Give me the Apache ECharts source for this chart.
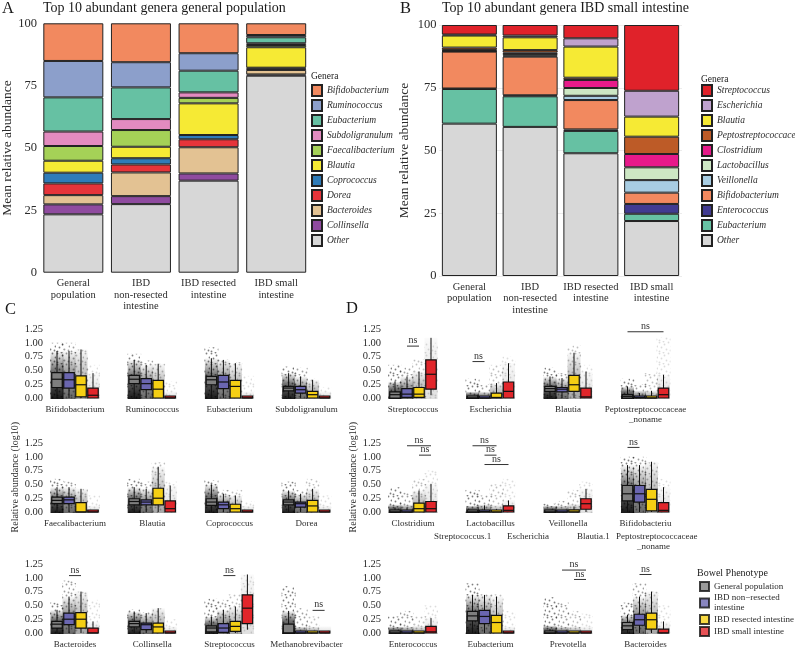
<!DOCTYPE html>
<html>
<head>
<meta charset="utf-8">
<script src="https://cdn.jsdelivr.net/npm/echarts@6/dist/echarts.min.js"></script>
<style>
  html, body { margin: 0; background: #fff; }
  #chart { width: 795px; height: 660px; }
</style>
</head>
<body>
<div id="chart"></div>
<script>
// ---------- data: panels A and B (stacked mean relative abundance) ----------
const phenotypes = ['General\npopulation', 'IBD\nnon-resected\nintestine', 'IBD resected\nintestine', 'IBD small\nintestine'];

// bottom -> top of each stack
const generaA = ['Other', 'Collinsella', 'Bacteroides', 'Dorea', 'Coprococcus', 'Blautia',
  'Faecalibacterium', 'Subdoligranulum', 'Eubacterium', 'Ruminococcus', 'Bifidobacterium'];
const valuesA = [
  [23.4, 27.5, 36.9, 79.0],
  [4.0, 3.2, 2.9, 0.5],
  [3.7, 9.5, 10.5, 1.8],
  [4.7, 3.2, 3.2, 0.6],
  [4.3, 2.5, 1.7, 0.3],
  [4.8, 4.6, 12.7, 8.2],
  [5.9, 6.7, 2.2, 0.9],
  [5.8, 4.4, 2.2, 0.7],
  [13.7, 12.7, 8.7, 2.4],
  [14.6, 10.1, 7.0, 0.9],
  [15.1, 15.6, 12.0, 4.7]
];

const generaB = ['Other', 'Eubacterium', 'Enterococcus', 'Bifidobacterium', 'Veillonella', 'Lactobacillus',
  'Clostridium', 'Peptostreptococcaceae', 'Blautia', 'Escherichia', 'Streptococcus'];
const valuesB = [
  [60.7, 59.4, 48.9, 21.9],
  [13.8, 12.2, 8.9, 2.9],
  [0.2, 0.4, 0.6, 3.9],
  [14.7, 15.4, 11.7, 4.5],
  [0.1, 0.4, 1.7, 5.0],
  [0.2, 0.6, 3.1, 5.1],
  [0.3, 0.6, 3.2, 5.3],
  [1.0, 1.0, 0.9, 6.9],
  [4.8, 5.1, 12.4, 8.0],
  [0.4, 0.7, 3.3, 10.3],
  [3.8, 4.2, 5.3, 26.2]
];

// ---------- data: panels C and D (box plots, [min, q1, median, q3, max]) ----------
const groupNames = ['General population', 'IBD non−resected intestine', 'IBD resected intestine', 'IBD small intestine'];
const tickValues = [0, 0.25, 0.5, 0.75, 1, 1.25];

const facetsC = ['Bifidobacterium', 'Ruminococcus', 'Eubacterium', 'Subdoligranulum',
  'Faecalibacterium', 'Blautia', 'Coprococcus', 'Dorea',
  'Bacteroides', 'Collinsella', 'Streptococcus', 'Methanobrevibacter'];
const boxesC = [
  [[0, 0.19, 0.34, 0.46, 0.85], [0, 0.18, 0.33, 0.46, 0.85], [0, 0.02, 0.24, 0.40, 0.88], [0, 0, 0.05, 0.18, 0.45]],
  [[0, 0.26, 0.34, 0.41, 0.69], [0, 0.15, 0.26, 0.35, 0.60], [0, 0, 0.16, 0.32, 0.62], [0, 0, 0, 0.01, 0.01]],
  [[0, 0.24, 0.33, 0.39, 0.72], [0, 0.17, 0.29, 0.41, 0.69], [0, 0, 0.21, 0.32, 0.63], [0, 0, 0, 0.01, 0.02]],
  [[0, 0.13, 0.18, 0.21, 0.45], [0, 0.09, 0.15, 0.21, 0.39], [0, 0, 0.06, 0.12, 0.33], [0, 0, 0, 0.01, 0.01]],
  [[0, 0.15, 0.21, 0.27, 0.45], [0, 0.15, 0.22, 0.27, 0.45], [0, 0, 0, 0.17, 0.42], [0, 0, 0, 0.01, 0.01]],
  [[0, 0.13, 0.19, 0.24, 0.45], [0, 0.13, 0.18, 0.22, 0.42], [0, 0.13, 0.25, 0.43, 0.82], [0, 0, 0.06, 0.20, 0.48]],
  [[0, 0.12, 0.18, 0.24, 0.50], [0, 0.06, 0.13, 0.18, 0.33], [0, 0, 0.06, 0.14, 0.30], [0, 0, 0, 0.01, 0.01]],
  [[0, 0.13, 0.18, 0.22, 0.39], [0, 0.09, 0.15, 0.18, 0.33], [0, 0, 0.11, 0.21, 0.42], [0, 0, 0, 0.01, 0.02]],
  [[0, 0.09, 0.16, 0.21, 0.42], [0, 0.15, 0.25, 0.36, 0.66], [0, 0.09, 0.25, 0.37, 0.75], [0, 0, 0, 0.09, 0.21]],
  [[0, 0.11, 0.17, 0.21, 0.39], [0, 0.06, 0.15, 0.18, 0.36], [0, 0, 0.11, 0.18, 0.45], [0, 0, 0, 0.01, 0.01]],
  [[0, 0.02, 0.09, 0.13, 0.30], [0, 0.01, 0.09, 0.17, 0.42], [0, 0.03, 0.12, 0.21, 0.48], [0.06, 0.17, 0.45, 0.69, 1.06]],
  [[0, 0, 0, 0.16, 0.40], [0, 0, 0, 0.01, 0.01], [0, 0, 0, 0.01, 0.01], [0, 0, 0, 0.01, 0.01]]
];
// highest jittered points per group
const cloudsC = [
  [1.0, 1.0, 0.88, 0.6], [0.8, 0.68, 0.62, 0.3], [0.92, 0.7, 0.65, 0.4], [0.57, 0.55, 0.35, 0.2],
  [0.6, 0.55, 0.42, 0.3], [0.6, 0.55, 0.9, 0.55], [0.58, 0.4, 0.4, 0.2], [0.55, 0.4, 0.6, 0.3],
  [0.55, 0.95, 0.75, 0.6], [0.43, 0.38, 0.45, 0.25], [0.62, 0.6, 0.7, 1.05], [0.85, 0.45, 0.3, 0.05]
];
// [facet, group from, group to, height]
const sigC = [[8, 1, 2, 1.04], [10, 1, 2, 1.04], [11, 2, 3, 0.41]];

const facetsD = ['Streptococcus', 'Escherichia', 'Blautia', 'Peptostreptococcaceae\n_noname',
  'Clostridium', 'Lactobacillus', 'Veillonella', 'Bifidobacteriu',
  'Enterococcus', 'Eubacterium', 'Prevotella', 'Bacteroides'];
const boxesD = [
  [[0, 0, 0.06, 0.11, 0.30], [0, 0.01, 0.07, 0.17, 0.39], [0, 0.01, 0.07, 0.19, 0.48], [0.05, 0.16, 0.43, 0.69, 1.09]],
  [[0, 0, 0, 0.01, 0.03], [0, 0, 0, 0.01, 0.02], [0, 0, 0.01, 0.09, 0.27], [0, 0, 0.12, 0.29, 0.63]],
  [[0, 0.12, 0.17, 0.21, 0.39], [0, 0.11, 0.16, 0.19, 0.36], [0, 0.12, 0.24, 0.41, 0.82], [0, 0, 0.02, 0.18, 0.48]],
  [[0, 0, 0.03, 0.06, 0.21], [0, 0, 0.01, 0.03, 0.09], [0, 0, 0, 0.03, 0.13], [0, 0, 0.06, 0.18, 0.42]],
  [[0, 0, 0, 0.03, 0.08], [0, 0, 0, 0.03, 0.08], [0, 0, 0.06, 0.16, 0.39], [0, 0, 0.06, 0.19, 0.51]],
  [[0, 0, 0, 0.01, 0.03], [0, 0, 0.01, 0.03, 0.12], [0, 0, 0, 0.02, 0.05], [0, 0, 0.03, 0.11, 0.21]],
  [[0, 0, 0, 0.01, 0.02], [0, 0, 0, 0.01, 0.02], [0, 0, 0, 0.04, 0.10], [0, 0.05, 0.15, 0.24, 0.42]],
  [[0, 0.20, 0.33, 0.48, 0.85], [0, 0.18, 0.33, 0.48, 0.85], [0, 0.02, 0.23, 0.41, 0.91], [0, 0, 0.03, 0.17, 0.45]],
  [[0, 0, 0, 0.01, 0.02], [0, 0, 0, 0.01, 0.02], [0, 0, 0, 0.02, 0.03], [0, 0, 0.02, 0.12, 0.27]],
  [[0, 0.22, 0.31, 0.39, 0.69], [0, 0.17, 0.30, 0.41, 0.69], [0, 0, 0.19, 0.32, 0.66], [0, 0, 0, 0.01, 0.02]],
  [[0, 0, 0, 0.03, 0.07], [0, 0, 0, 0.01, 0.01], [0, 0, 0, 0.01, 0.01], [0, 0, 0, 0.01, 0.01]],
  [[0, 0.06, 0.13, 0.19, 0.33], [0, 0.14, 0.24, 0.34, 0.66], [0, 0.07, 0.24, 0.36, 0.75], [0, 0, 0, 0.07, 0.21]]
];
const cloudsD = [
  [0.6, 0.55, 0.7, 1.0], [0.35, 0.25, 0.6, 0.75], [0.55, 0.45, 0.95, 0.6], [0.35, 0.25, 0.45, 1.1],
  [0.45, 0.35, 0.6, 0.75], [0.4, 0.3, 0.5, 0.6], [0.15, 0.2, 0.4, 0.55], [1.0, 1.0, 0.9, 0.6],
  [0.3, 0.4, 0.3, 0.5], [0.9, 0.7, 0.7, 0.4], [0.65, 0.55, 0.4, 0.35], [0.55, 0.9, 0.75, 0.5]
];
const sigD = [[0, 1, 2, 0.94], [1, 0, 1, 0.66], [3, 0, 3, 1.20],
  [4, 1, 3, 1.20], [4, 2, 3, 1.03],
  [5, 0, 2, 1.20], [5, 1, 2, 1.03], [5, 1, 3, 0.86],
  [7, 0, 1, 1.17], [10, 1, 3, 1.14], [10, 2, 3, 0.97], [11, 1, 2, 1.06]];

// ---------- styles ----------
const FONT = 'Liberation Serif';
const TXT = '#2b2b2b';
const generaColors = {
  Other: '#d7d7d7', Collinsella: '#8f4b9f', Bacteroides: '#e3c293', Dorea: '#e6343a',
  Coprococcus: '#2f7cb9', Blautia: '#f6ea34', Faecalibacterium: '#a5d157', Subdoligranulum: '#e38bc0',
  Eubacterium: '#66c1a3', Ruminococcus: '#8c9fcb', Bifidobacterium: '#f2895f',
  Enterococcus: '#413b91', Veillonella: '#a8cde3', Lactobacillus: '#cde7c4', Clostridium: '#e71a8a',
  Peptostreptococcaceae: '#bd5b27', Escherichia: '#bfa2ce', Streptococcus: '#e0222a'
};
const groupColors = ['#7f7f7f', '#6a66b0', '#f5cf14', '#e1262b'];
const cloudAlpha = [0.9, 0.6, 0.35, 0.12];
const PX = 55.2;                 // pixels per unit on the facet y axes
const rowZero = [398, 512, 633]; // pixel row of y = 0 in each facet row

// small dotted texture used to suggest the jittered points
const dotTile = document.createElement('canvas');
dotTile.width = 14; dotTile.height = 11;
(function () {
  const c = dotTile.getContext('2d');
  c.fillStyle = 'rgba(0,0,0,0.5)';
  [[1, 1], [6, 3], [10, 1], [13, 5], [3, 6], [8, 8], [12, 9], [1, 10], [5, 0]].forEach(p => {
    c.beginPath(); c.arc(p[0] + 0.5, p[1] + 0.5, 0.9, 0, Math.PI * 2); c.fill();
  });
})();

const grids = [], xAxes = [], yAxes = [], series = [];

// stacked bar panels
function barPanel(genera, values, stack, grid, barWidth, split) {
  const gi = grids.length;
  grids.push({ left: grid.left, top: grid.top, width: grid.width, height: grid.height,
    containLabel: false, outerBoundsMode: 'none' });
  xAxes.push({
    gridIndex: gi, type: 'category', data: phenotypes,
    axisLine: { show: false }, axisTick: { show: false },
    axisLabel: { interval: 0, fontSize: 10.5, lineHeight: 11.5, margin: 5, color: TXT, fontFamily: FONT }
  });
  yAxes.push({
    gridIndex: gi, type: 'value', min: 0, max: 100, interval: 25,
    name: 'Mean relative abundance', nameLocation: 'middle', nameGap: grid.nameGap,
    nameTextStyle: { fontSize: 13.5, color: TXT, fontFamily: FONT },
    axisLine: { show: false }, axisTick: { show: false },
    axisLabel: { fontSize: 12.5, margin: 2.5, color: TXT, fontFamily: FONT },
    splitLine: { show: split, lineStyle: { color: '#ececec', width: 1 } }
  });
  genera.forEach((g, i) => {
    series.push({
      name: g, type: 'bar', stack, xAxisIndex: gi, yAxisIndex: gi, barWidth,
      itemStyle: { color: generaColors[g], borderColor: '#222', borderWidth: 1 },
      data: values[i]
    });
  });
}
barPanel(generaA, valuesA, 'A', { left: 39.5, top: 23.3, width: 270.5, height: 249.4, nameGap: 24 }, 60, false);
barPanel(generaB, valuesB, 'B', { left: 439, top: 25, width: 243, height: 251, nameGap: 27.5 }, 55, true);

// box + jitter cloud, drawn through the axis scales
function renderBox(params, api) {
  const g = api.value(0);
  const lo = api.coord([g, api.value(1)]);
  const q1 = api.coord([g, api.value(2)]);
  const md = api.coord([g, api.value(3)]);
  const q3 = api.coord([g, api.value(4)]);
  const hi = api.coord([g, api.value(5)]);
  const top = api.coord([g, api.value(6)]);
  const zero = api.coord([g, 0]);
  const x = lo[0], w = 10.5, cw = 14, a = cloudAlpha[g];
  const coreTop = Math.min(hi[1], q3[1] - 6);
  let bTop = q3[1], bBot = q1[1];
  if (bBot - bTop < 2) bTop = bBot - 2;
  return {
    type: 'group',
    children: [
      { type: 'rect', shape: { x: x - cw / 2, y: top[1], width: cw, height: zero[1] - top[1] + 1 },
        style: { fill: { image: dotTile, repeat: 'repeat' }, opacity: Math.min(1, a + 0.15) } },
      { type: 'rect', shape: { x: x - 6.5, y: coreTop, width: 13, height: zero[1] - coreTop + 1 },
        style: { fill: new echarts.graphic.LinearGradient(0, 0, 0, 1, [
          { offset: 0, color: 'rgba(0,0,0,0.02)' },
          { offset: 0.4, color: 'rgba(0,0,0,' + (a * 0.6) + ')' },
          { offset: 1, color: 'rgba(0,0,0,' + a + ')' }]) } },
      { type: 'line', shape: { x1: x, y1: hi[1], x2: x, y2: lo[1] }, style: { stroke: '#111', lineWidth: 1 } },
      { type: 'rect', shape: { x: x - w / 2, y: bTop, width: w, height: bBot - bTop },
        style: { fill: groupColors[g], stroke: '#111', lineWidth: 1.2 } },
      { type: 'line', shape: { x1: x - w / 2, y1: md[1], x2: x + w / 2, y2: md[1] }, style: { stroke: '#111', lineWidth: 1.2 } }
    ]
  };
}
function renderSig(params, api) {
  const p1 = api.coord([api.value(0), api.value(2)]);
  const p2 = api.coord([api.value(1), api.value(2)]);
  return {
    type: 'group',
    children: [
      { type: 'line', shape: { x1: p1[0], y1: p1[1], x2: p2[0], y2: p2[1] }, style: { stroke: '#333', lineWidth: 1 } },
      { type: 'text', style: { text: 'ns', x: (p1[0] + p2[0]) / 2, y: p1[1] - 0.5, align: 'center', verticalAlign: 'bottom',
        fontSize: 10, fontFamily: FONT, fill: '#333' } }
    ]
  };
}

function facetPanel(facets, boxes, clouds, sigs, x0, step, titleGap) {
  facets.forEach((name, i) => {
    const row = Math.floor(i / 4), col = i % 4;
    const gi = grids.length;
    grids.push({ left: x0 + col * step, top: rowZero[row] - 1.3 * PX, width: 48, height: 1.34 * PX,
      containLabel: false, outerBoundsMode: 'none' });
    xAxes.push({
      gridIndex: gi, type: 'category', data: ['g0', 'g1', 'g2', 'g3'],
      name, nameLocation: 'middle', nameGap: 4,
      nameTextStyle: { fontSize: 9, lineHeight: 10, color: TXT, fontFamily: FONT, verticalAlign: 'top' },
      axisLine: { show: false, onZero: false }, axisTick: { show: false }, axisLabel: { show: false }
    });
    yAxes.push({
      gridIndex: gi, type: 'value', min: -0.04, max: 1.3,
      name: (row === 1 && col === 0) ? 'Relative abundance (log10)' : '',
      nameLocation: 'middle', nameGap: titleGap,
      nameTextStyle: { fontSize: 10, color: TXT, fontFamily: FONT },
      splitLine: { show: false }, axisLine: { show: false }, axisTick: { show: false },
      axisLabel: { show: col === 0, customValues: tickValues, formatter: v => v.toFixed(2),
        fontSize: 10.5, margin: 8, color: TXT, fontFamily: FONT }
    });
    series.push({
      type: 'custom', xAxisIndex: gi, yAxisIndex: gi, renderItem: renderBox,
      encode: { x: 0, y: [1, 2, 3, 4, 5, 6] },
      data: boxes[i].map((b, g) => [g].concat(b, [clouds[i][g]]))
    });
    const s = sigs.filter(d => d[0] === i).map(d => [d[1], d[2], d[3]]);
    if (s.length) {
      series.push({ type: 'custom', xAxisIndex: gi, yAxisIndex: gi, renderItem: renderSig,
        encode: { x: [0, 1], y: 2 }, data: s, z: 5 });
    }
  });
}
const firstFacetGrid = grids.length;
facetPanel(facetsC, boxesC, cloudsC, sigC, 51, 77.2, 31);
facetPanel(facetsD, boxesD, cloudsD, sigD, 389, 77.5, 30);

// legend entries for the bowel phenotype groups
groupNames.forEach((n, g) => {
  series.push({ name: n, type: 'scatter', xAxisIndex: firstFacetGrid, yAxisIndex: firstFacetGrid, data: [],
    itemStyle: { color: groupColors[g], borderColor: '#111', borderWidth: 1 } });
});

const legendBase = {
  orient: 'vertical', icon: 'rect', padding: 0, selectedMode: false,
  itemWidth: 10, itemHeight: 11, itemGap: 2,
  textStyle: { fontStyle: 'italic', fontSize: 9.5, color: TXT, fontFamily: FONT }
};
const titleStyle = (size) => ({ fontSize: size, fontWeight: 'normal', color: '#1a1a1a', fontFamily: FONT });

const chart = echarts.init(document.getElementById('chart'), null, { renderer: 'canvas' });
chart.setOption({
  animation: false,
  backgroundColor: '#fff',
  textStyle: { fontFamily: FONT },
  title: [
    { text: 'A', left: 2, top: 0, padding: 0, textStyle: titleStyle(16.5) },
    { text: 'Top 10 abundant genera general population', left: 43, top: 1, padding: 0, textStyle: titleStyle(14) },
    { text: 'B', left: 400, top: 0, padding: 0, textStyle: titleStyle(16.5) },
    { text: 'Top 10 abundant genera IBD small intestine', left: 442, top: 1, padding: 0, textStyle: titleStyle(14) },
    { text: 'C', left: 5, top: 301, padding: 0, textStyle: titleStyle(16.5) },
    { text: 'D', left: 346, top: 300, padding: 0, textStyle: titleStyle(16.5) },
    { text: 'Genera', left: 311, top: 71, padding: 0, textStyle: titleStyle(9.5) },
    { text: 'Genera', left: 701, top: 74, padding: 0, textStyle: titleStyle(9.5) },
    { text: 'Bowel Phenotype', left: 697, top: 568, padding: 0, textStyle: titleStyle(10) }
  ],
  legend: [
    Object.assign({}, legendBase, { data: generaA.slice().reverse(), left: 311, top: 84 }),
    Object.assign({}, legendBase, { data: generaB.slice().reverse(), left: 701, top: 84 }),
    Object.assign({}, legendBase, {
      data: groupNames, left: 699, top: 581, itemWidth: 9, itemHeight: 9, itemGap: 1,
      formatter: n => n === groupNames[1] ? 'IBD non−resected\nintestine' : n,
      textStyle: { fontSize: 9, lineHeight: 10, color: TXT, fontFamily: FONT }
    })
  ],
  grid: grids,
  xAxis: xAxes,
  yAxis: yAxes,
  series: series,
  graphic: [
    { type: 'text', left: 434, top: 532, style: { text: 'Streptococcus.1', fontSize: 9, fontFamily: FONT, fill: TXT } },
    { type: 'text', left: 507, top: 532, style: { text: 'Escherichia', fontSize: 9, fontFamily: FONT, fill: TXT } },
    { type: 'text', left: 577, top: 532, style: { text: 'Blautia.1', fontSize: 9, fontFamily: FONT, fill: TXT } },
    { type: 'text', left: 616, top: 532, style: { text: 'Peptostreptococcaceae', fontSize: 9, fontFamily: FONT, fill: TXT } },
    { type: 'text', left: 637, top: 542, style: { text: '_noname', fontSize: 9, fontFamily: FONT, fill: TXT } }
  ]
});
</script>
</body>
</html>
